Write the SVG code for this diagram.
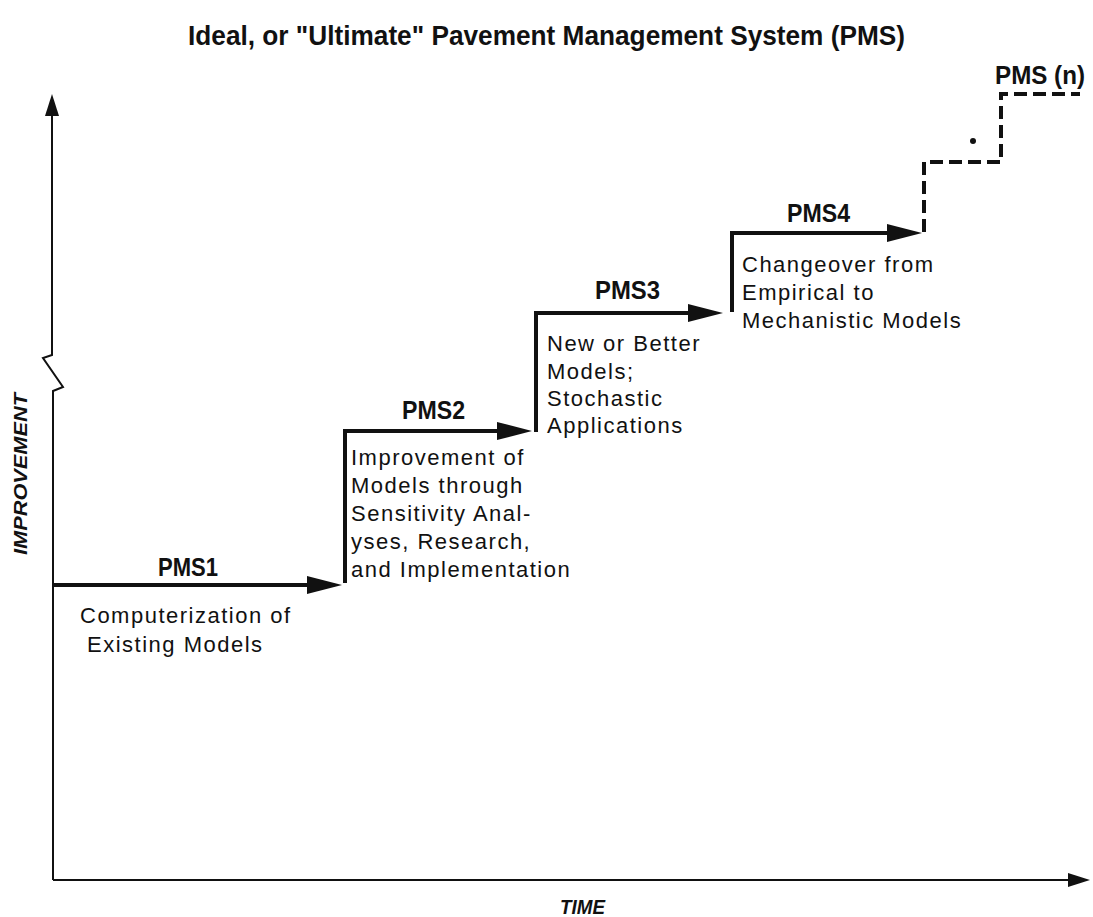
<svg xmlns="http://www.w3.org/2000/svg" width="1093" height="917" viewBox="0 0 1093 917">
<style>
.bg{fill:#fff}
.hd{font-family:"Liberation Sans",Arial,sans-serif;font-weight:bold;fill:#111}
.ax{font-family:"Liberation Sans",Arial,sans-serif;font-weight:bold;font-style:italic;fill:#111}
.ds{font-family:"Liberation Sans",Arial,sans-serif;font-size:22px;letter-spacing:1.5px;fill:#111}
.step{fill:none;stroke:#111;stroke-width:4;stroke-linejoin:miter}
.dash{fill:none;stroke:#111;stroke-width:4;stroke-dasharray:13 6}
.axis{fill:none;stroke:#111;stroke-width:2}
</style>
<defs>
<marker id="ah" viewBox="0 0 35 18" markerWidth="35" markerHeight="18" refX="15" refY="9" markerUnits="userSpaceOnUse" orient="auto"><path d="M0,0 L35,9 L0,18 Z" fill="#111"/></marker>
<marker id="axh" viewBox="0 0 22 14" markerWidth="22" markerHeight="14" refX="10" refY="7" markerUnits="userSpaceOnUse" orient="auto"><path d="M0,0 L22,7 L0,14 Z" fill="#111"/></marker>
</defs>
<rect class="bg" x="0" y="0" width="1093" height="917"/>
<g id="title"><text class="hd" x="188" y="45" font-size="27" textLength="717" lengthAdjust="spacingAndGlyphs">Ideal, or "Ultimate" Pavement Management System (PMS)</text></g>
<g id="connectors">
<polyline class="axis" points="53,880 53,391 63,387 43,358 52,355 52,106" marker-end="url(#axh)"/>
<line class="axis" x1="53" y1="880" x2="1078" y2="880" marker-end="url(#axh)"/>
<polyline class="step" points="54,585 322,585" marker-end="url(#ah)"/>
<polyline class="step" points="345,583 345,431 512,431" marker-end="url(#ah)"/>
<polyline class="step" points="536,432 536,313 703,313" marker-end="url(#ah)"/>
<polyline class="step" points="732,312 732,233 902,233" marker-end="url(#ah)"/>
<polyline class="dash" points="924,232 924,162 1001,162 1001,94 1080,94"/>
<circle cx="973" cy="141" r="3" fill="#111"/>
</g>
<g id="pms1">
<text class="hd" x="158" y="576" font-size="26" textLength="60" lengthAdjust="spacingAndGlyphs">PMS1</text>
<text class="ds" x="80" y="623">Computerization of</text>
<text class="ds" x="87" y="652">Existing Models</text>
</g>
<g id="pms2">
<text class="hd" x="402" y="419" font-size="26" textLength="63" lengthAdjust="spacingAndGlyphs">PMS2</text>
<text class="ds" x="351" y="465">Improvement of</text>
<text class="ds" x="351" y="493">Models through</text>
<text class="ds" x="351" y="521">Sensitivity Anal-</text>
<text class="ds" x="351" y="549">yses, Research,</text>
<text class="ds" x="351" y="577">and Implementation</text>
</g>
<g id="pms3">
<text class="hd" x="595" y="299" font-size="26" textLength="65" lengthAdjust="spacingAndGlyphs">PMS3</text>
<text class="ds" x="547" y="351">New or Better</text>
<text class="ds" x="547" y="379">Models;</text>
<text class="ds" x="547" y="406">Stochastic</text>
<text class="ds" x="547" y="433">Applications</text>
</g>
<g id="pms4">
<text class="hd" x="787" y="222" font-size="26" textLength="63" lengthAdjust="spacingAndGlyphs">PMS4</text>
<text class="ds" x="742" y="272">Changeover from</text>
<text class="ds" x="742" y="300">Empirical to</text>
<text class="ds" x="742" y="328">Mechanistic Models</text>
</g>
<g id="pmsn"><text class="hd" x="995" y="84" font-size="26" textLength="90" lengthAdjust="spacingAndGlyphs">PMS (n)</text></g>
<g id="ylabel"><text class="ax" transform="translate(27,555) rotate(-90)" x="0" y="0" font-size="19" textLength="162" lengthAdjust="spacingAndGlyphs">IMPROVEMENT</text></g>
<g id="xlabel"><text class="ax" x="560" y="914" font-size="20" textLength="45" lengthAdjust="spacingAndGlyphs">TIME</text></g>
</svg>
